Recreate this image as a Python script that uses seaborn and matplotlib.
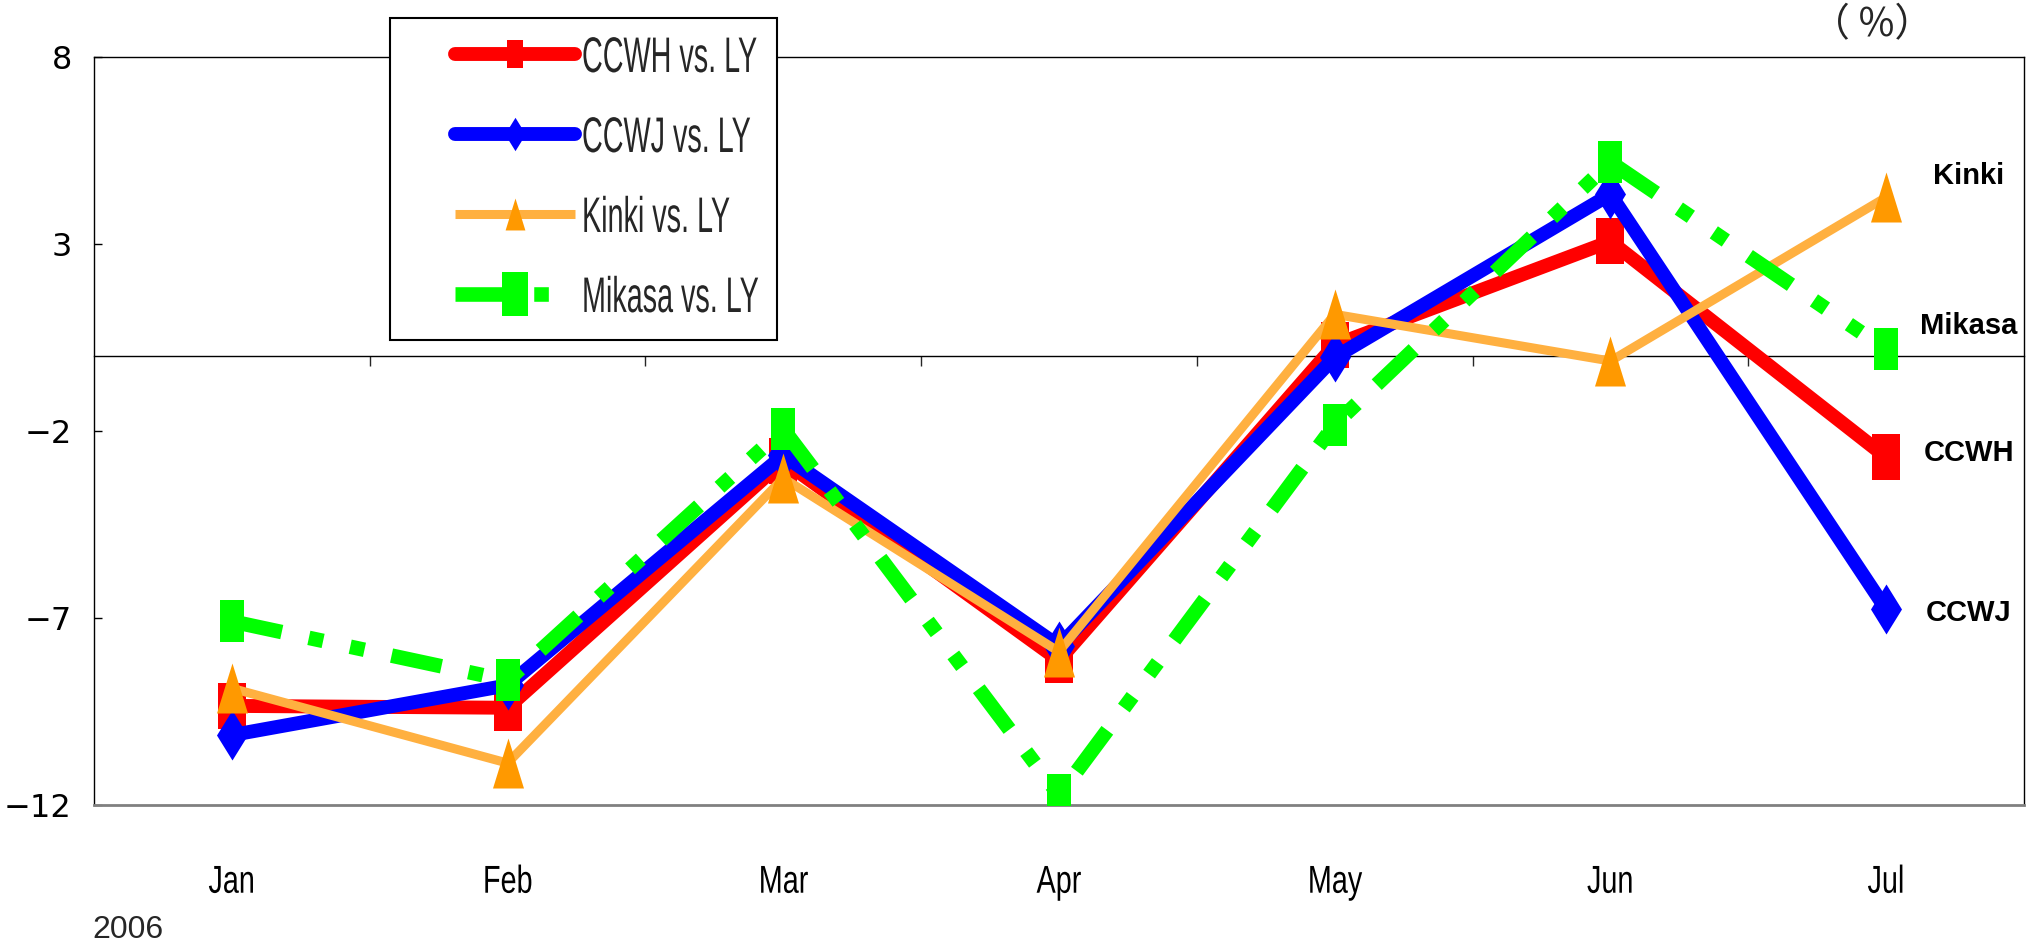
import numpy as np
import pandas as pd
import matplotlib
matplotlib.use("Agg")
import matplotlib.pyplot as plt
from matplotlib import patheffects
from matplotlib.patches import Rectangle
from matplotlib.transforms import Affine2D
import seaborn as sns

# ---------------- data ----------------
months = ["Jan", "Feb", "Mar", "Apr", "May", "Jun", "Jul"]
ccwh = [-9.35, -9.40, -2.80, -8.13, 0.30, 3.07, -2.70]
ccwj = [-10.13, -8.80, -2.65, -7.75, -0.03, 4.33, -6.77]
kinki = [-8.88, -10.88, -3.26, -7.90, 1.12, -0.13, 4.25]
mikasa = [-7.09, -8.67, -1.95, -11.74, -1.83, 5.19, 0.18]
legend_labels = ["CCWH vs. LY", "CCWJ vs. LY", "Kinki vs. LY", "Mikasa vs. LY"]
end_labels = ["CCWH", "CCWJ", "Kinki", "Mikasa"]
y_ticks = [8, 3, -2, -7, -12]
year_label = "2006"
unit_label = "（ %）"

df = pd.DataFrame({"month": months, "CCWH": ccwh, "CCWJ": ccwj,
                   "Kinki": kinki, "Mikasa": mikasa})

sns.set_style("white")
plt.rcParams["font.family"] = ["Liberation Sans", "DejaVu Sans"]


class Squeeze(patheffects.AbstractPathEffect):
    """Draw text horizontally condensed (the original uses a narrow font)."""

    def __init__(self, sx, anchor="center"):
        super().__init__()
        self.sx = sx
        self.anchor = anchor

    def draw_path(self, renderer, gc, tpath, affine, rgbFace=None):
        if self.anchor == "left":
            x0 = affine.get_matrix()[0, 2]
        else:
            ext = tpath.get_extents(affine)
            x0 = (ext.x0 + ext.x1) / 2
        aff = affine + Affine2D().translate(-x0, 0).scale(self.sx, 1).translate(x0, 0)
        renderer.draw_path(gc, tpath, aff, rgbFace)


W, H = 2038, 946
fig = plt.figure(figsize=(W / 100, H / 100), dpi=100)
ax = fig.add_axes([94 / W, 1 - 805 / H, 1930 / W, 748 / H])


def rect(r):
    return [(-r, -1), (r, -1), (r, 1), (-r, 1), (-r, -1)]


def tri(r):
    return [(0, 1), (-r, -1), (r, -1), (0, 1)]


def diamond(r):
    return [(0, 1), (r, 0), (0, -1), (-r, 0), (0, 1)]


styles = {
    "CCWH": dict(color="#FF0000", marker=rect(0.61), markersize=33, linewidth=10,
                 linestyle="-", mfc="#FF0000", cap="round", z=3, leg_ms=19.5),
    "CCWJ": dict(color="#0000FF", marker=diamond(0.62), markersize=36, linewidth=10,
                 linestyle="-", mfc="#0000FF", cap="round", z=4, leg_ms=24),
    "Kinki": dict(color="#FFB040", marker=tri(0.62), markersize=36, linewidth=6.5,
                  linestyle="-", mfc="#FF9900", cap="butt", z=5, leg_ms=23),
    "Mikasa": dict(color="#00FF00", marker=rect(0.60), markersize=30, linewidth=10.5,
                   linestyle=(0, (3.5, 1.9, 1.0, 1.9, 1.0, 1.9)), mfc="#00FF00",
                   cap="butt", z=6, leg_ms=31),
}
series = ["CCWH", "CCWJ", "Kinki", "Mikasa"]

for col, lab in zip(series, legend_labels):
    s = styles[col]
    sns.lineplot(data=df, x="month", y=col, ax=ax, color=s["color"],
                 marker=s["marker"], markersize=s["markersize"],
                 linewidth=s["linewidth"], linestyle=s["linestyle"],
                 markerfacecolor=s["mfc"], markeredgecolor=s["mfc"],
                 markeredgewidth=0, label=lab, sort=False, errorbar=None,
                 solid_capstyle=s["cap"], dash_capstyle="butt", zorder=s["z"])

ymin, ymax = -12, 8
ax.set_ylim(ymin, ymax)
ax.set_xlim(-0.5, len(months) - 0.5)
ax.set_xlabel("")
ax.set_ylabel("")
ax.grid(False)

ax.set_yticks(y_ticks)
ax.set_yticklabels([f"{t}".replace("-", "\u2212") for t in y_ticks])
ax.tick_params(axis="y", direction="in", length=6, width=1, pad=16,
               labelsize=23, left=True, right=False, colors="black")
for lbl in ax.get_yticklabels():
    lbl.set_fontfamily(["DejaVu Sans"])

ax.set_xticks(range(len(months)))
ax.set_xticklabels(months)
ax.tick_params(axis="x", length=0, pad=43, labelsize=28, colors="black")

for side in ["left", "right", "top"]:
    ax.spines[side].set_visible(True)
    ax.spines[side].set_color("black")
    ax.spines[side].set_linewidth(1)
ax.spines["bottom"].set_visible(True)
ax.spines["bottom"].set_color("#808080")
ax.spines["bottom"].set_linewidth(2)

# zero-line category axis with boundary tick marks
zero_frac = (0 - ymin) / (ymax - ymin)
sec = ax.secondary_xaxis(zero_frac)
sec.set_xticks(np.arange(0.5, len(months) - 0.5, 1))
sec.tick_params(axis="x", direction="in", length=7, width=1,
                labeltop=False, labelbottom=False)
for sp in sec.spines.values():
    sp.set_linewidth(1)
    sp.set_color("black")

# end labels
end_pos = {"Kinki": 4.81, "Mikasa": 0.80, "CCWH": -2.59, "CCWJ": -6.87}
for name in end_labels:
    ax.text(6.30, end_pos[name], name, ha="center", va="center", fontsize=21,
            fontweight="bold", color="black", clip_on=False)

fig.text(1872 / W, 1 - 25 / H, unit_label, ha="center", va="center", fontsize=28,
         family=["Noto Sans CJK JP", "DejaVu Sans"])
fig.text(127.5 / W, 1 - 930 / H, year_label, ha="center", va="center", fontsize=23)

# legend (frame drawn separately because the texts are condensed)
handles, labels = ax.get_legend_handles_labels()
leg_fs = 36
leg = ax.legend(handles, labels, loc="upper left",
                bbox_to_anchor=(455 / W, 1 - 36 / H), bbox_transform=fig.transFigure,
                prop={"family": ["Liberation Sans"], "size": leg_fs},
                frameon=False, borderpad=0, labelspacing=0.68, handlelength=2.4,
                handletextpad=0.14, markerscale=1, numpoints=1, borderaxespad=0)
for h, col in zip(leg.legend_handles, series):
    h.set_markersize(styles[col]["leg_ms"])
for t in leg.get_texts():
    t.set_path_effects([Squeeze(0.575, "left")])
leg.set_zorder(10)
ax.add_patch(Rectangle((390 / W, 1 - 340 / H), 387 / W, 322 / H,
                       transform=fig.transFigure, facecolor="white",
                       edgecolor="black", linewidth=1.5, clip_on=False, zorder=9))

for lbl in ax.get_xticklabels():
    lbl.set_path_effects([Squeeze(0.74, "center")])

fig.savefig("out.png", dpi=100)
